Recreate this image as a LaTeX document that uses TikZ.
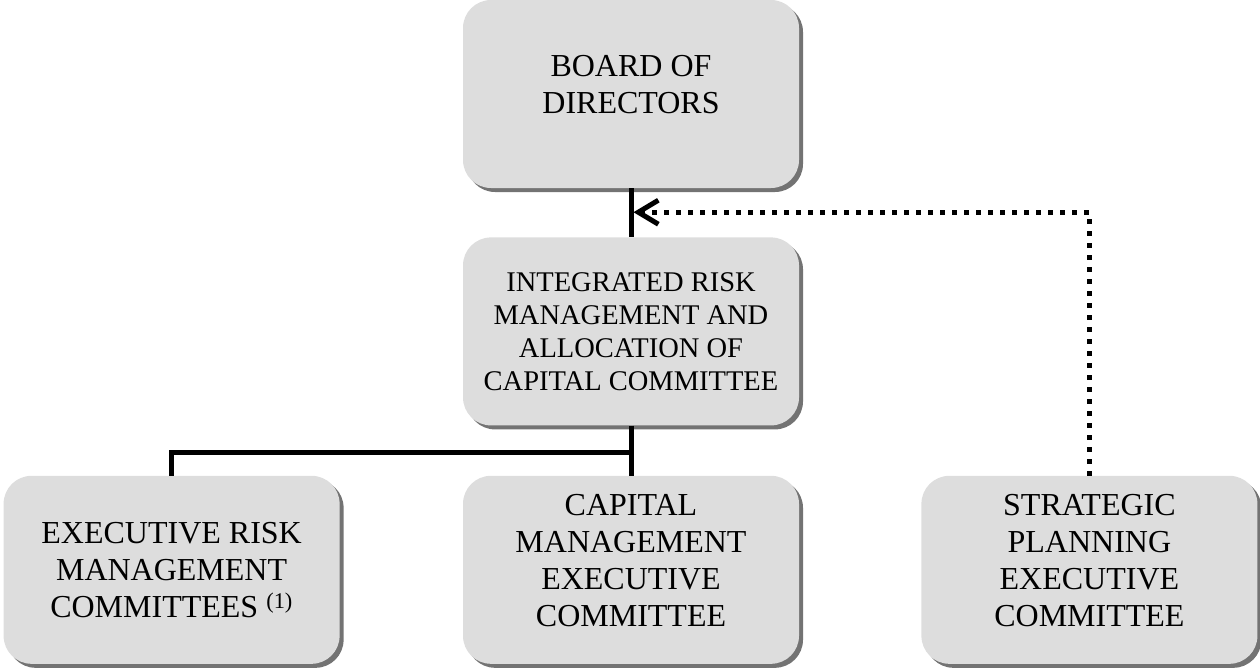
\documentclass[tikz,border=0pt]{standalone}
\usepackage{fontspec}
\setmainfont{Liberation Serif}
\usetikzlibrary{positioning,shadows,arrows.meta}
\definecolor{boxgray}{RGB}{221,221,221}
\begin{document}
\begin{tikzpicture}[x=1pt,y=1pt,
				committee/.style={rounded corners=28pt,fill=boxgray,align=center,
					minimum width=336pt,minimum height=188pt,inner sep=0pt,
					drop shadow={shadow xshift=4pt,shadow yshift=-4pt,fill=black!55,opacity=1},
					font=\fontsize{32}{37}\selectfont},
				lifted/.style={text depth=19pt},
				link/.style={line width=5pt},
				reports/.style={line width=5pt,dash pattern=on 5pt off 7pt,
					-{Straight Barb[length=20pt,width=24pt]}}]
\useasboundingbox (0,0) rectangle (1260,-670);
\node[committee,lifted] (board) at (631,-94) {BOARD OF\\DIRECTORS};
\node[committee,below=49pt of board,font=\fontsize{28.5}{33}\selectfont] (irm)
	{INTEGRATED RISK\\MANAGEMENT AND\\ALLOCATION OF\\CAPITAL COMMITTEE};
\node[committee,lifted,below=50pt of irm] (cme) {CAPITAL\\MANAGEMENT\\EXECUTIVE\\COMMITTEE};
\node[committee,left=123pt of cme] (erm) {EXECUTIVE RISK\\MANAGEMENT\\COMMITTEES \textsuperscript{(1)}};
\node[committee,lifted,right=122pt of cme] (spe) {STRATEGIC\\PLANNING\\EXECUTIVE\\COMMITTEE};
\coordinate[below=24pt of board.south] (tap);
\coordinate[below=27pt of irm.south] (fork);
\draw[link] (board) -- (irm);
\draw[link] (irm) -- (cme);
\draw[link] (erm.north) |- ([xshift=2.5pt]fork);
\draw[reports] (spe.north) |- ([xshift=2.5pt]tap);
\end{tikzpicture}
\end{document}
